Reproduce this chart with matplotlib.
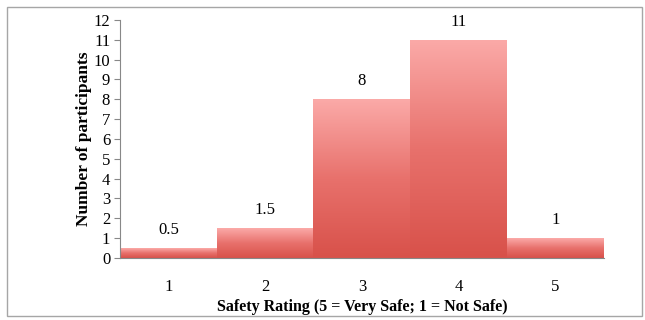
import numpy as np
import matplotlib.pyplot as plt
from matplotlib.colors import LinearSegmentedColormap
from matplotlib.patches import Rectangle

ratings = ["1", "2", "3", "4", "5"]
counts = [0.5, 1.5, 8, 11, 1]
labels = ["0.5", "1.5", "8", "11", "1"]

plt.rcParams["font.family"] = ["Liberation Serif", "DejaVu Serif"]

fig = plt.figure(figsize=(6.45, 3.2), dpi=100)
ax = fig.add_axes([0.186, 0.194, 0.75, 0.7435])

# frame round the whole figure
fig.patches.append(Rectangle((0.011, 0.012), 0.984, 0.966, transform=fig.transFigure,
                             fill=False, edgecolor="#a6a6a6", linewidth=1.0))

cmap = LinearSegmentedColormap.from_list("redgrad", ["#d8514a", "#e8716c", "#fbaaa8"])
grad = np.linspace(0, 1, 256).reshape(-1, 1)

x = np.arange(len(ratings))
bars = ax.bar(x, counts, width=1.0, color="none", edgecolor="none")
for bar, lab in zip(bars, labels):
    x0, y0 = bar.get_x(), bar.get_y()
    w, h = bar.get_width(), bar.get_height()
    im = ax.imshow(grad, cmap=cmap, origin="lower", aspect="auto",
                   extent=(x0, x0 + w, y0, y0 + h), zorder=2)
    im.set_clip_path(bar)
    ax.text(x0 + w / 2, h + 0.5, lab, ha="center", va="bottom", fontsize=12)

ax.set_xlim(-0.5, 4.5)
ax.set_ylim(0, 12)
ax.set_yticks(range(0, 13))
ax.set_xticks(x)
ax.set_xticklabels(ratings)
ax.tick_params(axis="y", labelsize=12, length=4, color="#888888", pad=3)
ax.tick_params(axis="x", labelsize=12, length=0, pad=15)

for s in ["top", "right"]:
    ax.spines[s].set_visible(False)
ax.spines["left"].set_color("#888888")
ax.spines["bottom"].set_color("#888888")

ax.set_ylabel("Number of participants", fontsize=12.5, fontweight="bold", labelpad=1)
ax.set_xlabel("Safety Rating (5 = Very Safe; 1 = Not Safe)", fontsize=11.5,
              fontweight="bold", labelpad=3)

fig.savefig("out.png", dpi=100)
